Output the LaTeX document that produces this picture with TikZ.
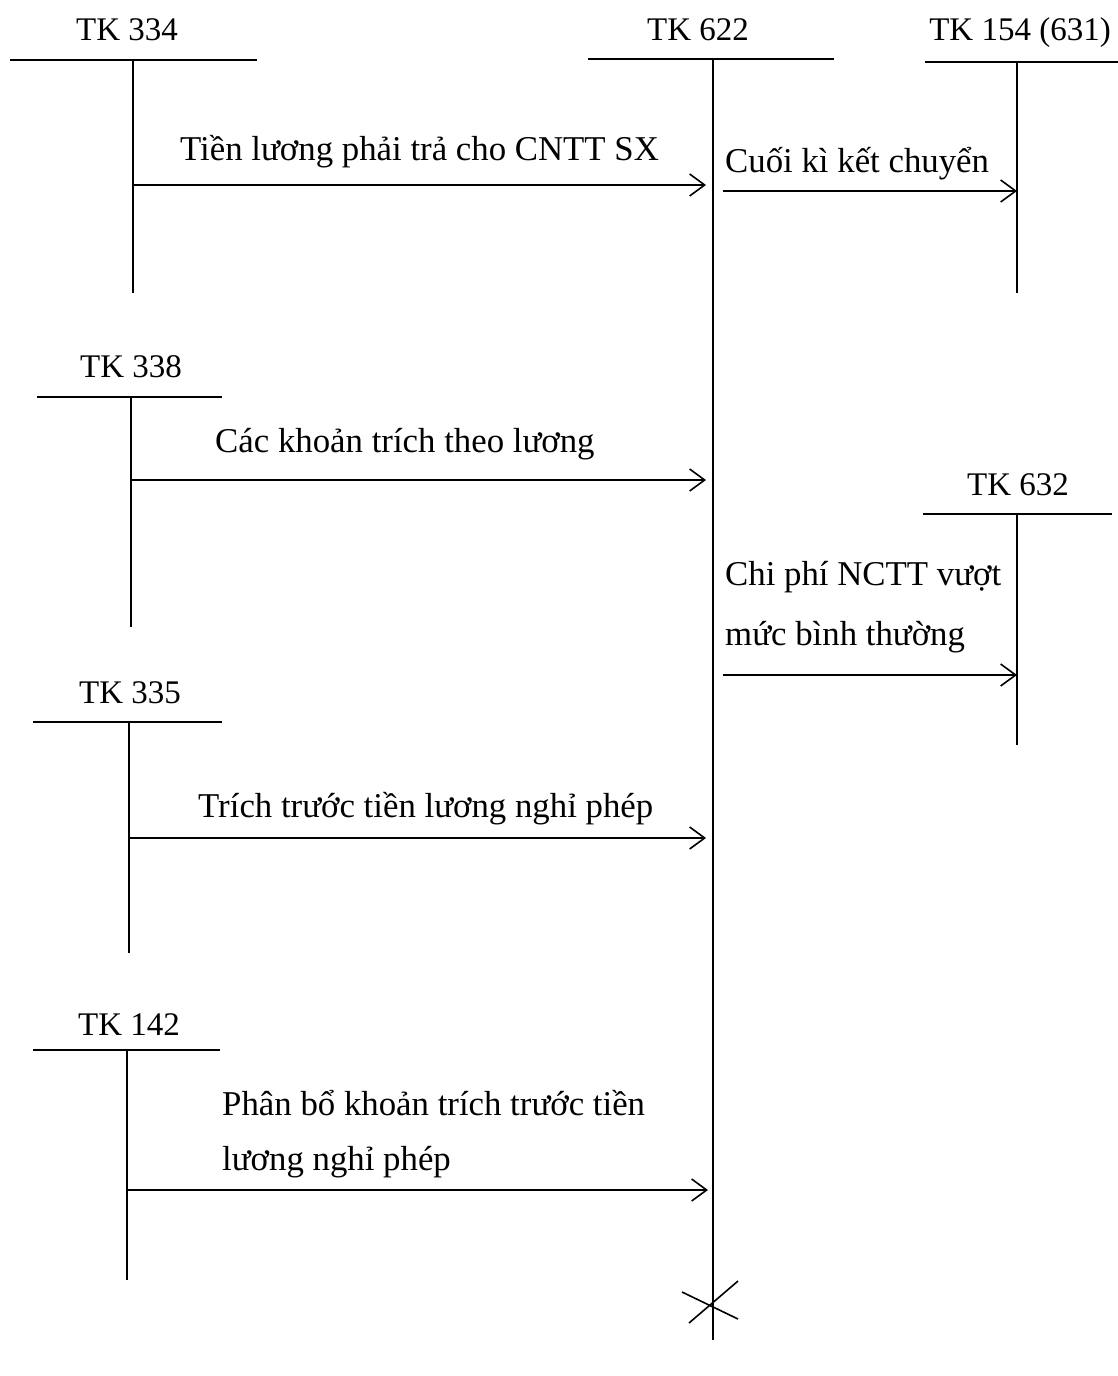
\documentclass[tikz,border=0pt]{standalone}
\usepackage{fontspec}
\setmainfont{Liberation Serif}
\usetikzlibrary{arrows.meta}
\begin{document}
\begin{tikzpicture}[x=1pt,y=-1pt,
  acct/.style={anchor=base, inner sep=0pt, font=\fontsize{33}{40}\selectfont},
  lbl/.style={anchor=base west, inner sep=0pt, font=\fontsize{34.8}{42}\selectfont},
  header/.style={line width=2.4pt},
  stem/.style={line width=1.6pt},
  flow/.style={line width=1.6pt, -{Straight Barb[length=15pt,width=22pt,line width=1.6pt]}},
  cross/.style={line width=1.6pt}]
\useasboundingbox (0,0) rectangle (1118,1376);

% T-accounts: header line and stem
\node[acct] (t334) at (127,40) {TK 334};
\coordinate (h334a) at (10,60); \coordinate (h334b) at (257,60);
\coordinate (s334a) at (133,60); \coordinate (s334b) at (133,293);
\draw[header] (h334a) -- (h334b);
\draw[stem] (s334a) -- (s334b);

\node[acct] (t622) at (698,40) {TK 622};
\coordinate (h622a) at (588,59); \coordinate (h622b) at (834,59);
\coordinate (s622a) at (713,59); \coordinate (s622b) at (713,1340);
\draw[header] (h622a) -- (h622b);
\draw[stem] (s622a) -- (s622b);

\node[acct] (t154) at (1020,40) {TK 154 (631)};
\coordinate (h154a) at (925,62); \coordinate (h154b) at (1118,62);
\coordinate (s154a) at (1017,62); \coordinate (s154b) at (1017,293);
\draw[header] (h154a) -- (h154b);
\draw[stem] (s154a) -- (s154b);

\node[acct] (t338) at (131,377) {TK 338};
\coordinate (h338a) at (37,397); \coordinate (h338b) at (222,397);
\coordinate (s338a) at (131,397); \coordinate (s338b) at (131,627);
\draw[header] (h338a) -- (h338b);
\draw[stem] (s338a) -- (s338b);

\node[acct] (t632) at (1018,495) {TK 632};
\coordinate (h632a) at (923,514); \coordinate (h632b) at (1112,514);
\coordinate (s632a) at (1017,514); \coordinate (s632b) at (1017,745);
\draw[header] (h632a) -- (h632b);
\draw[stem] (s632a) -- (s632b);

\node[acct] (t335) at (130,703) {TK 335};
\coordinate (h335a) at (33,722); \coordinate (h335b) at (222,722);
\coordinate (s335a) at (129,722); \coordinate (s335b) at (129,953);
\draw[header] (h335a) -- (h335b);
\draw[stem] (s335a) -- (s335b);

\node[acct] (t142) at (129,1035) {TK 142};
\coordinate (h142a) at (33,1050); \coordinate (h142b) at (220,1050);
\coordinate (s142a) at (127,1050); \coordinate (s142b) at (127,1280);
\draw[header] (h142a) -- (h142b);
\draw[stem] (s142a) -- (s142b);

% postings into and out of TK 622
\node[lbl] (l1) at (180,160) {Tiền lương phải trả cho CNTT SX};
\coordinate (a1s) at (133,185); \coordinate (a1e) at (706,185);
\draw[flow] (a1s) -- (a1e);

\node[lbl] (l2) at (725,172) {Cuối kì kết chuyển};
\coordinate (a2s) at (723,191); \coordinate (a2e) at (1017,191);
\draw[flow] (a2s) -- (a2e);

\node[lbl] (l3) at (215,452) {Các khoản trích theo lương};
\coordinate (a3s) at (131,480); \coordinate (a3e) at (706,480);
\draw[flow] (a3s) -- (a3e);

\node[lbl] (l4a) at (725,585) {Chi phí NCTT vượt};
\node[lbl] (l4b) at (725,645) {mức bình thường};
\coordinate (a4s) at (723,675); \coordinate (a4e) at (1017,675);
\draw[flow] (a4s) -- (a4e);

\node[lbl] (l5) at (198,817) {Trích trước tiền lương nghỉ phép};
\coordinate (a5s) at (129,838); \coordinate (a5e) at (706,838);
\draw[flow] (a5s) -- (a5e);

\node[lbl] (l6a) at (222,1115) {Phân bổ khoản trích trước tiền};
\node[lbl] (l6b) at (222,1170) {lương nghỉ phép};
\coordinate (a6s) at (127,1190); \coordinate (a6e) at (708,1190);
\draw[flow] (a6s) -- (a6e);

% closing mark on TK 622
\coordinate (x1a) at (682,1292); \coordinate (x1b) at (738,1319);
\coordinate (x2a) at (689,1323); \coordinate (x2b) at (738,1281);
\draw[cross] (x1a) -- (x1b);
\draw[cross] (x2a) -- (x2b);
\end{tikzpicture}
\end{document}
